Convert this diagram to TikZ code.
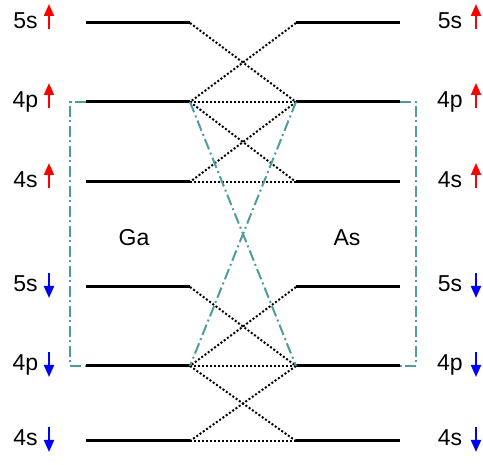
\documentclass[tikz,border=0pt]{standalone}
\usepackage{fontspec}
\setmainfont{Liberation Sans}
\usetikzlibrary{arrows.meta}
\definecolor{bondteal}{RGB}{80,155,158}

\begin{document}
\begin{tikzpicture}[
    x=1pt, y=-1pt,
    level/.style={line width=3pt},
    hop/.style={line width=2pt, dash pattern=on 2pt off 2pt},
    bond/.style={bondteal, line width=2pt, dash pattern=on 11pt off 3.5pt on 2pt off 3.5pt},
    lbl/.style={anchor=base, inner sep=0pt, font=\fontsize{23}{27}\selectfont},
    spinup/.style={red, line width=2pt, -{Triangle[width=10pt,length=12pt]}},
    spindown/.style={blue, line width=2pt, -{Triangle[width=10pt,length=12pt]}}
]
    \useasboundingbox (0,0) rectangle (483,465);

    % energy levels, spin up
    \foreach \lvl/\yy/\txt in {5su/23/5s, 4pu/102/4p, 4su/182/4s}{
        \coordinate (ga-\lvl-a) at (86,\yy);
        \coordinate (ga-\lvl) at (190,\yy);
        \coordinate (as-\lvl) at (296,\yy);
        \coordinate (as-\lvl-b) at (400,\yy);
        \draw[level] (ga-\lvl-a) -- (ga-\lvl);
        \draw[level] (as-\lvl) -- (as-\lvl-b);
        \node[lbl] (lab-ga-\lvl) at (25.5,{\yy+6}) {\txt};
        \node[lbl] (lab-as-\lvl) at (450,{\yy+6}) {\txt};
        \draw[spinup] (49,{\yy+6}) -- ++(0,-25);
        \draw[spinup] (476,{\yy+6}) -- ++(0,-25);
    }
    % energy levels, spin down
    \foreach \lvl/\yy/\txt in {5sd/287/5s, 4pd/366/4p, 4sd/441/4s}{
        \coordinate (ga-\lvl-a) at (86,\yy);
        \coordinate (ga-\lvl) at (190,\yy);
        \coordinate (as-\lvl) at (296,\yy);
        \coordinate (as-\lvl-b) at (400,\yy);
        \draw[level] (ga-\lvl-a) -- (ga-\lvl);
        \draw[level] (as-\lvl) -- (as-\lvl-b);
        \node[lbl] (lab-ga-\lvl) at (25.5,{\yy+5}) {\txt};
        \node[lbl] (lab-as-\lvl) at (450,{\yy+5}) {\txt};
        \draw[spindown] (49,{\yy-14}) -- ++(0,25);
        \draw[spindown] (476,{\yy-14}) -- ++(0,25);
    }

    \node[lbl] (ga) at (134,246) {Ga};
    \node[lbl] (as) at (347,246) {As};

    % hopping between levels
    \foreach \s in {u,d}{
        \draw[hop] (ga-5s\s) -- (as-4p\s);
        \draw[hop] (as-5s\s) -- (ga-4p\s);
        \draw[hop] (ga-4p\s) -- (as-4p\s);
        \draw[hop] (ga-4p\s) -- (as-4s\s);
        \draw[hop] (as-4p\s) -- (ga-4s\s);
        \draw[hop] (ga-4s\s) -- (as-4s\s);
    }

    % spin-flip coupling of 4p levels
    \draw[bond] (ga-4pu) -- (as-4pd);
    \draw[bond] (as-4pu) -- (ga-4pd);
    \coordinate (ga-brk) at (70,102);
    \coordinate (as-brk) at (416,102);
    \draw[bond] (ga-4pu-a) -- (ga-brk) |- (ga-4pd-a);
    \draw[bond] (as-4pu-b) -- (as-brk) |- (as-4pd-b);
\end{tikzpicture}
\end{document}
